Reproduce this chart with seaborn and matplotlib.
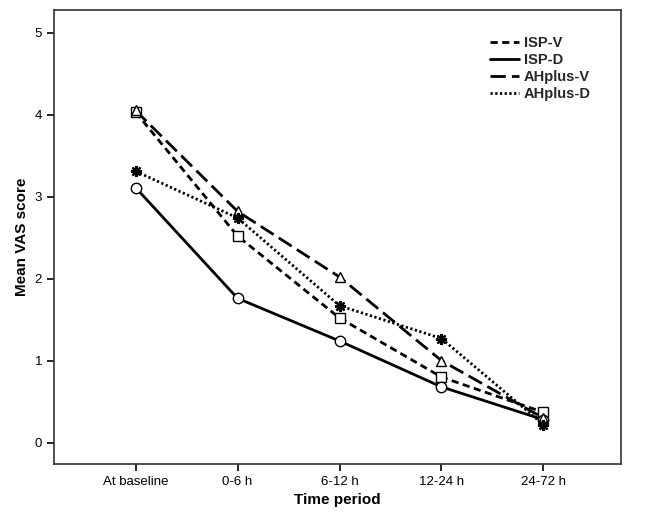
import pandas as pd
import matplotlib
matplotlib.use("Agg")
import matplotlib.pyplot as plt
from matplotlib.lines import Line2D
import seaborn as sns

periods = ["At baseline", "0-6 h", "6-12 h", "12-24 h", "24-72 h"]
isp_v = [4.03, 2.52, 1.52, 0.80, 0.37]
isp_d = [3.11, 1.76, 1.24, 0.68, 0.28]
ahplus_v = [4.05, 2.82, 2.02, 1.00, 0.30]
ahplus_d = [3.31, 2.74, 1.67, 1.27, 0.22]

groups = ["ISP-V", "ISP-D", "AHplus-V", "AHplus-D"]
series = [isp_v, isp_d, ahplus_v, ahplus_d]

dashes = {"ISP-V": (2.6, 1.6), "ISP-D": None, "AHplus-V": (5.5, 2.2), "AHplus-D": (0.8, 0.9)}
markers = {"ISP-V": "s", "ISP-D": "o", "AHplus-V": "^", "AHplus-D": (8, 2, 0)}

sns.set_theme(style="white")
plt.rcParams["font.family"] = ["Liberation Sans", "DejaVu Sans"]

fig = plt.figure(figsize=(6.48, 5.17), dpi=100)
ax = fig.add_axes([0.0833, 0.1025, 0.875, 0.879])

for g, vals in zip(groups, series):
    d = pd.DataFrame({"period": periods, "score": vals})
    n_before = len(ax.lines)
    sns.lineplot(data=d, x="period", y="score", color="black", sort=False,
                 linewidth=2, ax=ax)
    line = ax.lines[n_before]
    if dashes[g]:
        line.set_dashes(dashes[g])
    m = markers[g]
    line.set_marker(m)
    line.set_markeredgecolor("black")
    if m == (8, 2, 0):
        line.set_markersize(8)
        line.set_markeredgewidth(1.6)
    else:
        line.set_markersize(7.5)
        line.set_markerfacecolor("white")
        line.set_markeredgewidth(1.0)

ax.set_xlim(-0.8, 4.76)
ax.set_ylim(-0.26, 5.28)
ax.set_yticks([0, 1, 2, 3, 4, 5])
ax.set_xlabel("Time period", fontsize=11, fontweight="bold", color="black")
ax.set_ylabel("Mean VAS score", fontsize=11, fontweight="bold", color="black")
ax.tick_params(axis="both", which="major", labelsize=9.5, length=5, width=1.2,
               color="black", labelcolor="black", direction="out",
               bottom=True, left=True)
for sp in ax.spines.values():
    sp.set_color("#333333")
    sp.set_linewidth(1.2)

handles = []
for g in groups:
    h = Line2D([], [], color="black", linewidth=2)
    if dashes[g]:
        h.set_dashes(dashes[g])
    handles.append(h)
leg = ax.legend(handles, groups, loc="upper right", bbox_to_anchor=(0.97, 0.97),
                frameon=False, handlelength=2.0, handletextpad=0.3,
                labelspacing=0.2, prop={"weight": "bold", "size": 10.5})

fig.savefig("out.png", dpi=100)
